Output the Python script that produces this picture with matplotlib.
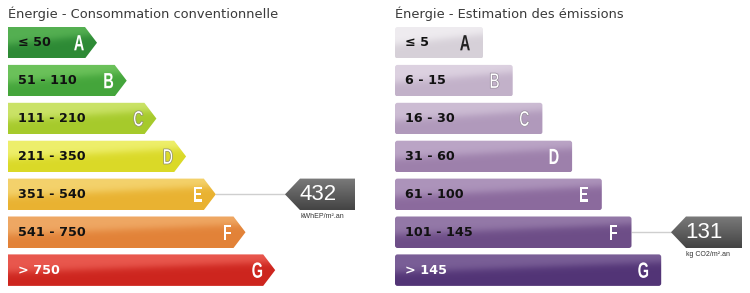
import numpy as np
import matplotlib
matplotlib.use("Agg")
import matplotlib.pyplot as plt
from matplotlib.patches import Polygon, FancyBboxPatch, PathPatch
from matplotlib.colors import to_rgb
from matplotlib.textpath import TextPath
from matplotlib.font_manager import FontProperties
from matplotlib.transforms import Affine2D

# ---------------- data ----------------
classes = ['A', 'B', 'C', 'D', 'E', 'F', 'G']
conso_ranges = ['≤ 50', '51 - 110', '111 - 210', '211 - 350', '351 - 540', '541 - 750', '> 750']
ges_ranges = ['≤ 5', '6 - 15', '16 - 30', '31 - 60', '61 - 100', '101 - 145', '> 145']
conso_title = 'Énergie - Consommation conventionnelle'
ges_title = 'Énergie - Estimation des émissions'
conso_value = 432
conso_class = 'E'
conso_unit = 'kWhEP/m².an'
ges_value = 131
ges_class = 'F'
ges_unit = 'kg CO2/m².an'

conso_dark = ['#2d8a35', '#44a53b', '#a6ca2b', '#dad927', '#e9b231', '#e28238', '#cd251e']
conso_light = ['#55b052', '#6cc25b', '#cbe368', '#eeef6c', '#f4d26c', '#efa864', '#e9584e']
ges_dark = ['#d6d0d8', '#c2b1c9', '#b099bb', '#9d80ab', '#8b6a9d', '#6d4d87', '#523476']
ges_light = ['#efecf0', '#ddd2e1', '#cdbdd4', '#bba5c6', '#ad94bb', '#9479a8', '#7a5f97']

# ---------------- layout ----------------
W, H = 750, 293
fig = plt.figure(figsize=(W / 100, H / 100), dpi=100)
ax = fig.add_axes([0, 0, 1, 1])
ax.set_xlim(0, W)
ax.set_ylim(H, 0)
ax.axis('off')

top0, pitch, bh = 27, 37.9, 31.5
step = 29.7
arrow = 12
L_x0, L_tip0 = 8, 97
R_x0, R_end0 = 395, 483

letter_font = FontProperties(family=['Liberation Sans', 'DejaVu Sans'], weight='bold')


def gradient_fill(patch, x0, x1, y0, y1, dark, light):
    nx, ny = 240, 60
    xs = np.linspace(0, 1, nx)
    ys = np.linspace(0, 1, ny)
    X, Y = np.meshgrid(xs, ys)
    b = 0.58 - 0.33 * X
    t = 1 / (1 + np.exp(-(Y - b) / 0.07))
    d = np.array(to_rgb(dark))
    l = np.array(to_rgb(light))
    img = l[None, None, :] * (1 - t[..., None]) + d[None, None, :] * t[..., None]
    im = ax.imshow(img, extent=(x0, x1, y1, y0), aspect='auto', zorder=2,
                   interpolation='bilinear')
    im.set_clip_path(patch)


def cond_letter(x, y, s, color, stroke=None):
    tp = TextPath((0, 0), s, size=22, prop=letter_font)
    ext = tp.get_extents()
    cx = (ext.x0 + ext.x1) / 2
    cy = (ext.y0 + ext.y1) / 2
    tr = Affine2D().translate(-cx, -cy).scale(0.66, -1).translate(x, y) + ax.transData
    patch = PathPatch(tp, transform=tr, facecolor=color,
                      edgecolor=stroke if stroke else 'none',
                      lw=0.5 if stroke else 0, zorder=3)
    ax.add_patch(patch)


for i, c in enumerate(classes):
    y0 = top0 + pitch * i
    y1 = y0 + bh
    yc = (y0 + y1) / 2

    # ---- left: arrow-shaped bars ----
    tip = L_tip0 + step * i
    body = tip - arrow
    poly = Polygon([(L_x0, y0), (body, y0), (tip, yc), (body, y1), (L_x0, y1)],
                   closed=True, facecolor='none', edgecolor='none', zorder=1)
    ax.add_patch(poly)
    gradient_fill(poly, L_x0, tip, y0, y1, conso_dark[i], conso_light[i])
    ax.text(L_x0 + 10, yc, conso_ranges[i], fontsize=9.2, fontweight='bold',
            color='white' if c == 'G' else '#111111', va='center', ha='left', zorder=3)
    cond_letter(tip - 18, yc, c, 'white',
                stroke='#8c8c66' if c in ('C', 'D') else None)

    # ---- right: rectangular bars ----
    rend = R_end0 + step * i
    rect = FancyBboxPatch((R_x0, y0), rend - R_x0, bh,
                          boxstyle='round,pad=0,rounding_size=2.5',
                          facecolor='none', edgecolor='none', zorder=1)
    ax.add_patch(rect)
    gradient_fill(rect, R_x0, rend, y0, y1, ges_dark[i], ges_light[i])
    ax.text(R_x0 + 10, yc, ges_ranges[i], fontsize=9.2, fontweight='bold',
            color='white' if c == 'G' else '#111111', va='center', ha='left', zorder=3)
    cond_letter(rend - 18, yc, c, '#222222' if c == 'A' else 'white',
                stroke='#958a9a' if c in ('B', 'C') else None)

# titles
ax.text(L_x0, 14, conso_title, fontsize=9.4, color='#3a3a3a', va='center', ha='left')
ax.text(R_x0, 14, ges_title, fontsize=9.4, color='#3a3a3a', va='center', ha='left')


def score_box(cls_idx, value, unit, from_x, tip_x, body_w):
    y0 = top0 + pitch * cls_idx
    y1 = y0 + bh
    yc = (y0 + y1) / 2
    ax.plot([from_x, tip_x], [yc, yc], color='#cfcfcf', lw=1, zorder=1)
    bx = tip_x + 15
    poly = Polygon([(tip_x, yc), (bx, y0), (bx + body_w, y0), (bx + body_w, y1), (bx, y1)],
                   closed=True, facecolor='none', edgecolor='none', zorder=1)
    ax.add_patch(poly)
    nx, ny = 10, 40
    t = np.linspace(0, 1, ny)[:, None] * np.ones((1, nx))
    top_c = np.array(to_rgb('#7a7a7a'))
    bot_c = np.array(to_rgb('#444444'))
    img = top_c * (1 - t[..., None]) + bot_c * t[..., None]
    im = ax.imshow(img, extent=(tip_x, bx + body_w, y1, y0), aspect='auto', zorder=2,
                   interpolation='bilinear')
    im.set_clip_path(poly)
    ax.text(tip_x + 33, yc + 0.5, str(value), fontsize=16, color='white',
            family=['Liberation Sans', 'DejaVu Sans'], va='center', ha='center', zorder=3)
    ax.text(tip_x + 37, y1 + 6, unit, fontsize=5, color='#333333',
            family=['Liberation Sans', 'DejaVu Sans'], va='center', ha='center', zorder=3)


ci = classes.index(conso_class)
score_box(ci, conso_value, conso_unit, L_tip0 + step * ci, 285, 55)
gi = classes.index(ges_class)
score_box(gi, ges_value, ges_unit, R_end0 + step * gi, 671, 56)

fig.savefig('out.png', dpi=100)
